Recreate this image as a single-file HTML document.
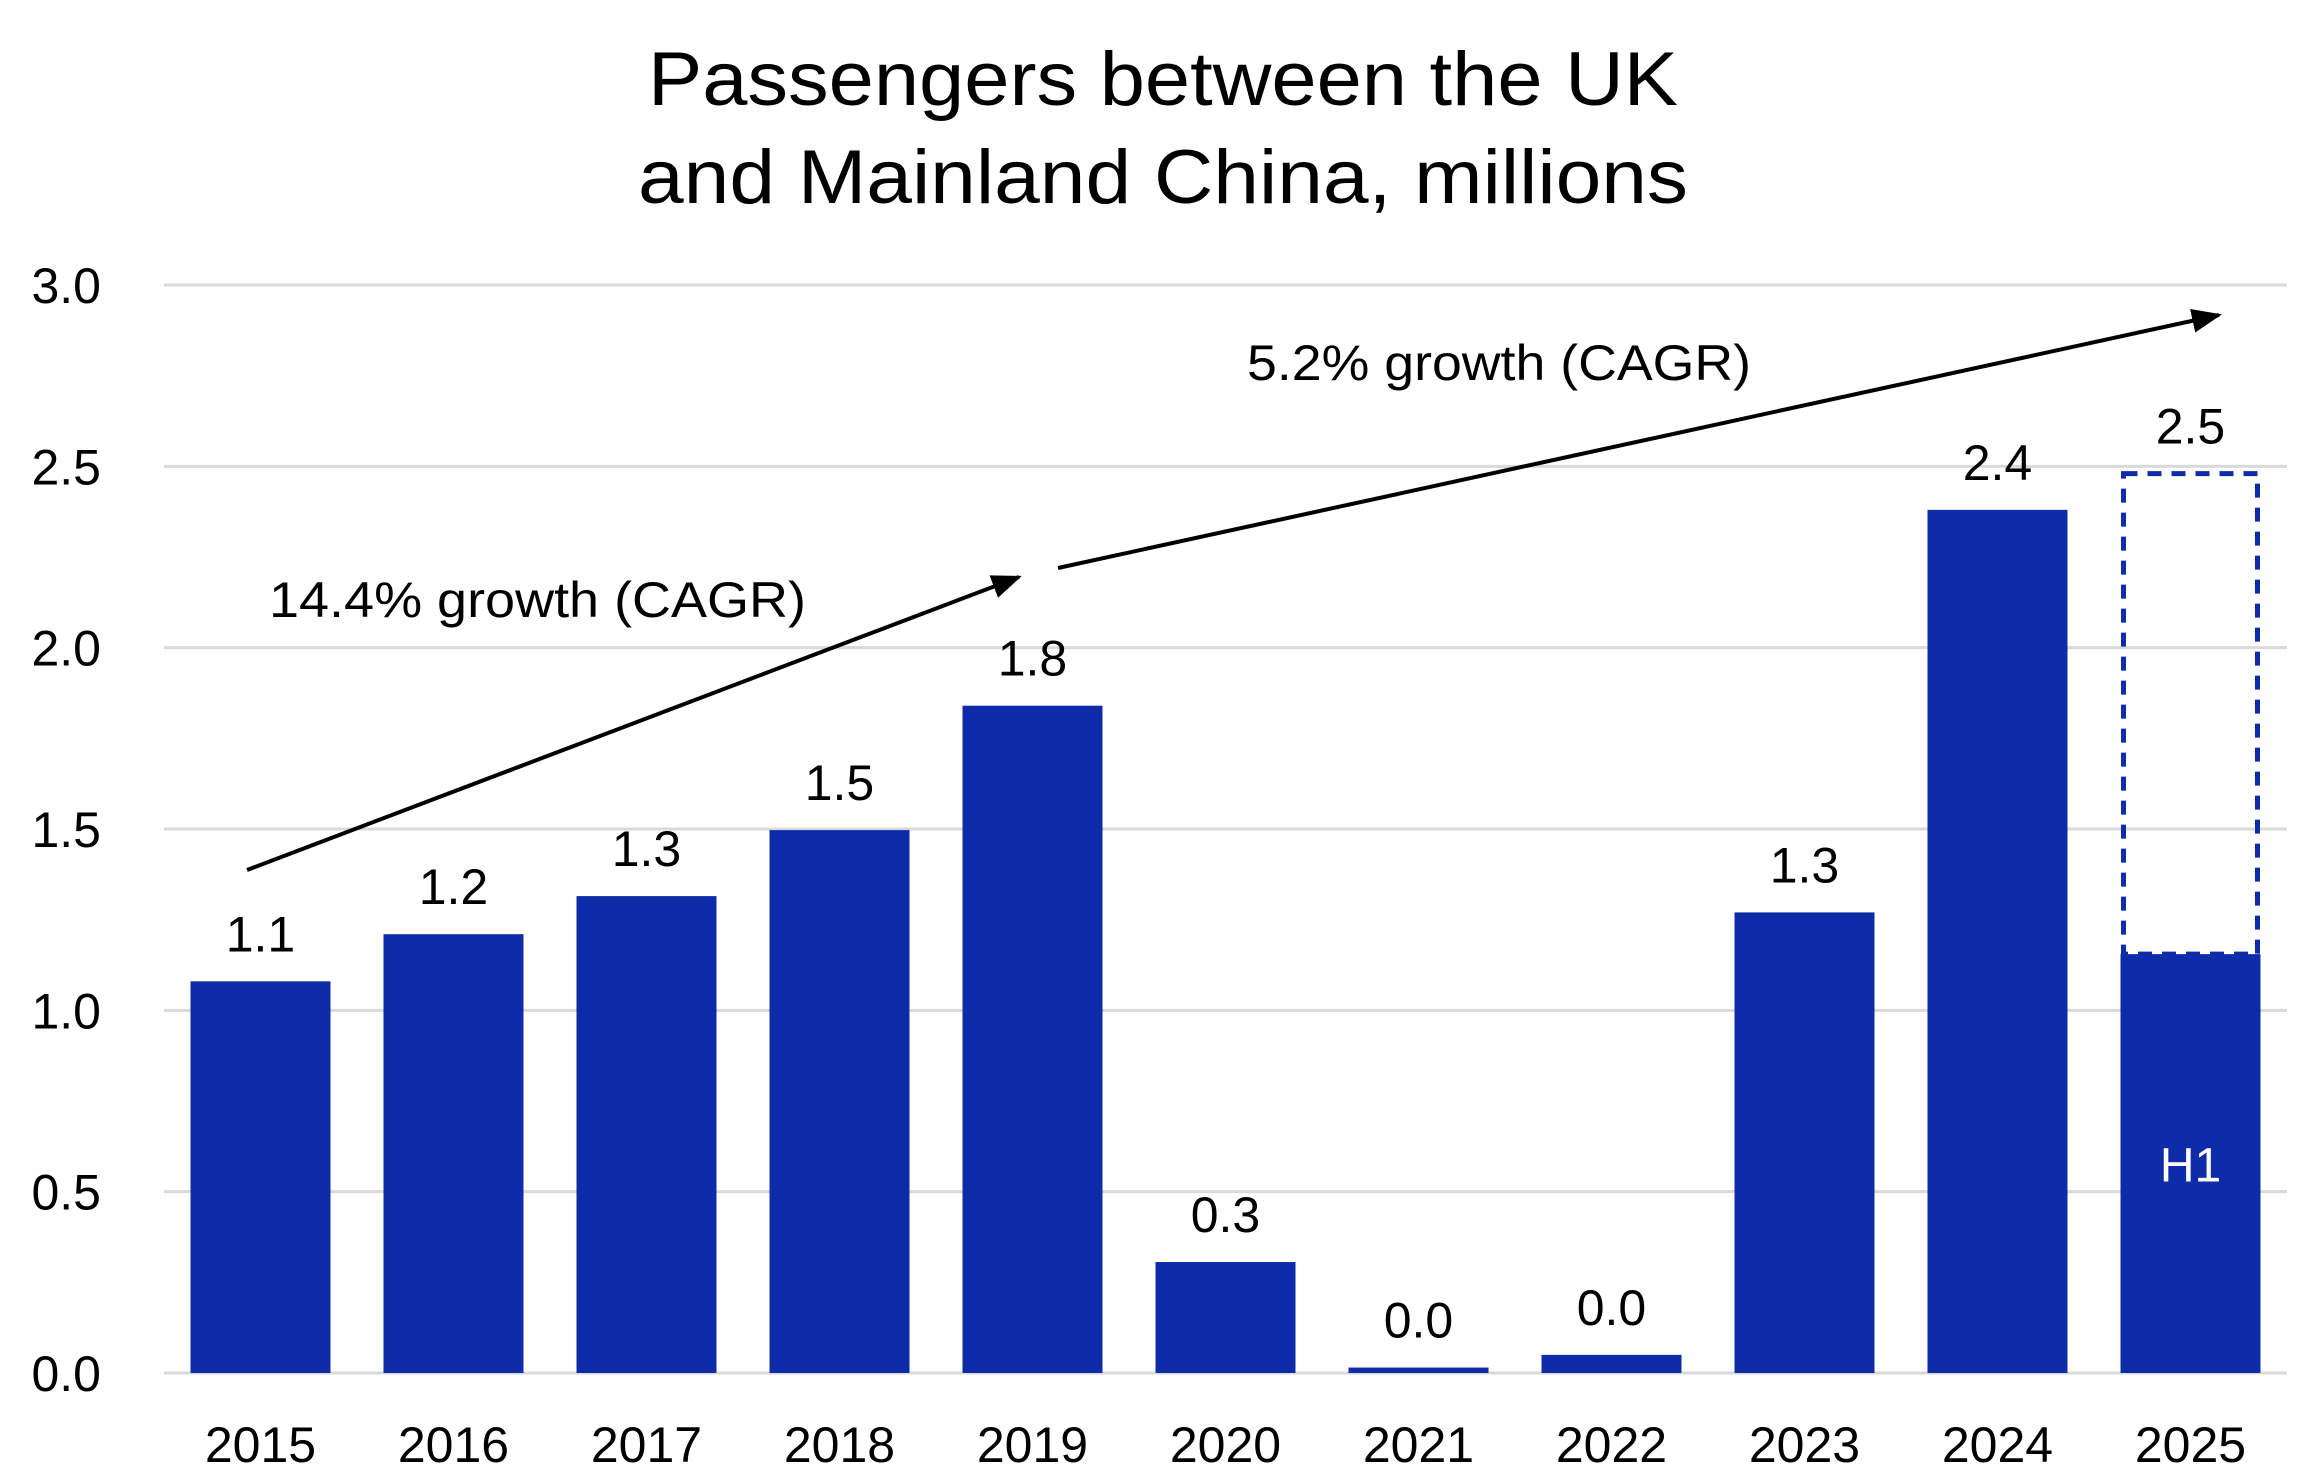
<!DOCTYPE html>
<html><head><meta charset="utf-8"><style>
html,body{margin:0;padding:0;background:#fff}
svg{display:block;font-family:"Liberation Sans",sans-serif}
</style></head><body>
<svg id="chart" width="2304" height="1479" viewBox="0 0 2304 1479">
<defs><marker id="ah" markerWidth="10" markerHeight="8" refX="9" refY="4" orient="auto" markerUnits="userSpaceOnUse" viewBox="0 0 10 8"><path d="M0,0 L10,4 L0,8 Z" fill="#000"/></marker>
<marker id="ah2" viewBox="0 0 10 8" refX="9" refY="4" markerWidth="30" markerHeight="24" orient="auto" markerUnits="userSpaceOnUse"><path d="M0,0 L10,4 L0,8 Z" fill="#000"/></marker></defs>
<text x="1163" y="105" font-size="76" text-anchor="middle" textLength="1030" lengthAdjust="spacingAndGlyphs">Passengers between the UK</text>
<text x="1163" y="203" font-size="76" text-anchor="middle" textLength="1050" lengthAdjust="spacingAndGlyphs">and Mainland China, millions</text>
<g id="grid"></g><g id="bars"></g><g id="labels"></g>
<line x1="247" y1="870" x2="1019" y2="577" stroke="#000" stroke-width="4" marker-end="url(#ah2)"/>
<line x1="1058" y1="568" x2="2219" y2="315" stroke="#000" stroke-width="4" marker-end="url(#ah2)"/>
<text x="269" y="617" font-size="50" textLength="537" lengthAdjust="spacingAndGlyphs">14.4% growth (CAGR)</text>
<text x="1247" y="380" font-size="50" textLength="504" lengthAdjust="spacingAndGlyphs">5.2% growth (CAGR)</text>
</svg>
<script>
const categories=["2015","2016","2017","2018","2019","2020","2021","2022","2023","2024","2025"];
const values=[1.08,1.21,1.315,1.497,1.84,0.306,0.015,0.05,1.27,2.38,1.155];
const valueLabels=["1.1","1.2","1.3","1.5","1.8","0.3","0.0","0.0","1.3","2.4",""];
const projected=[null,null,null,null,null,null,null,null,null,null,2.48];
const projectedLabels=["","","","","","","","","","","2.5"];
const yTicks=[0,0.5,1,1.5,2,2.5,3];
const yTickLabels=["0.0","0.5","1.0","1.5","2.0","2.5","3.0"];
const NS="http://www.w3.org/2000/svg";
const x0=164,x1=2287,y0=1373,yTop=285,ymax=3;
const band=(x1-x0)/categories.length,bw=140;
const y=v=>y0-(v/ymax)*(y0-yTop);
const cx=i=>x0+band*(i+0.5);
function mk(t,a,p){const e=document.createElementNS(NS,t);for(const k in a)e.setAttribute(k,a[k]);p.appendChild(e);return e;}
const G=document.getElementById('grid'),B=document.getElementById('bars'),L=document.getElementById('labels');
yTicks.forEach((t,i)=>{
 const l=mk('line',{x1:x0,x2:x1,y1:y(t),y2:y(t),stroke:'#d9d9d9','stroke-width':3},G);
 
 
 const tx=mk('text',{x:101,y:y(t)+18,'font-size':50,'text-anchor':'end'},G);
 tx.textContent=yTickLabels[i];
 
 
});
categories.forEach((c,i)=>{
 if(projected[i]!=null){
  const d=mk('rect',{x:cx(i)-bw/2+3,y:y(projected[i]),width:bw-6,height:y(values[i])-y(projected[i]),fill:'none',stroke:'#0f2ca8','stroke-width':5,'stroke-dasharray':'14 10'},B);
  
  
  const pl=mk('text',{x:cx(i),y:y(projected[i])-30,'font-size':50,'text-anchor':'middle'},L);
  pl.textContent=projectedLabels[i];
  
  
  const h=mk('text',{x:cx(i),y:y(values[i]/2)+18,'font-size':48,'text-anchor':'middle',fill:'#fff'},L);
  h.textContent='H1';
  
  
 }
 const r=mk('rect',{x:cx(i)-bw/2,y:y(values[i]),width:bw,height:Math.max(y0-y(values[i]),2),fill:'#0f2ca8'},B);
 
 
 if(valueLabels[i]){
  const v=mk('text',{x:cx(i),y:y(values[i])-30,'font-size':50,'text-anchor':'middle'},L);
  v.textContent=valueLabels[i];
  
  
 }
 const xl=mk('text',{x:cx(i),y:1462,'font-size':50,'text-anchor':'middle'},L);
 xl.textContent=c;
 
 
});
</script>
</body></html>
